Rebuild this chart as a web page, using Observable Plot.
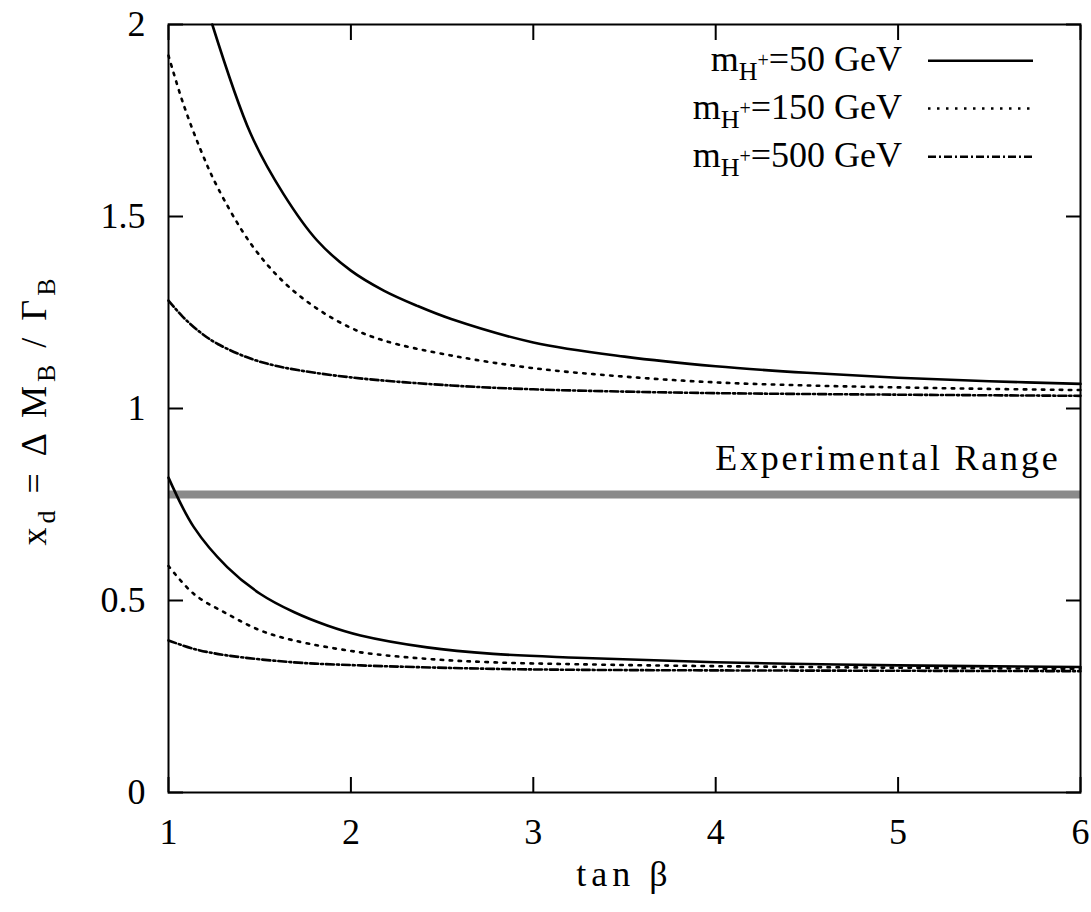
<!DOCTYPE html>
<html><head><meta charset="utf-8">
<script src="https://cdn.jsdelivr.net/npm/d3@7"></script>
<script src="https://cdn.jsdelivr.net/npm/@observablehq/plot@0.6"></script>
<style>
body{margin:0;background:#fff;}
#wrap{position:relative;width:1091px;height:912px;}
#overlay{position:absolute;left:0;top:0;pointer-events:none;}
</style></head><body><div id="wrap"></div>
<script>
// ---- data ----
const xTicks = [1, 2, 3, 4, 5, 6];
const yTicks = [0, 0.5, 1, 1.5, 2];
const seriesNames = ["m_H+=50 GeV", "m_H+=150 GeV", "m_H+=500 GeV"];
const legendMasses = ["50", "150", "500"];

// upper branch
const tUp50  = [1.24, 1.45, 1.63, 1.815, 2.0, 2.18, 2.36, 2.55, 3.0, 3.5, 4.0, 4.5, 5.0, 5.5, 6.0];
const yUp50  = [2.0, 1.716, 1.559, 1.4375, 1.359, 1.307, 1.268, 1.233, 1.172, 1.135, 1.11, 1.093, 1.08, 1.071, 1.064];
const tUp150 = [1.0, 1.08, 1.175, 1.27, 1.45, 1.63, 1.815, 2.0, 2.18, 2.55, 3.0, 3.5, 4.0, 4.5, 5.0, 5.5, 6.0];
const yUp150 = [1.919, 1.795, 1.675, 1.575, 1.43, 1.33, 1.26, 1.21, 1.177, 1.138, 1.105, 1.083, 1.068, 1.06, 1.055, 1.051, 1.048];
const tUp500 = [1.0, 1.08, 1.175, 1.27, 1.45, 1.63, 2.0, 2.55, 3.0, 3.5, 4.0, 5.0, 6.0];
const yUp500 = [1.281, 1.238, 1.198, 1.168, 1.13, 1.107, 1.081, 1.06, 1.05, 1.044, 1.04, 1.036, 1.033];

// lower branch
const tLo50  = [1.0, 1.139, 1.322, 1.504, 1.687, 1.87, 2.053, 2.418, 2.78, 3.24, 4.0, 5.0, 6.0];
const yLo50  = [0.82, 0.691, 0.587, 0.517, 0.47, 0.435, 0.409, 0.378, 0.361, 0.351, 0.339, 0.331, 0.327];
const tLo150 = [1.0, 1.139, 1.322, 1.504, 1.687, 2.053, 2.418, 2.78, 3.24, 4.0, 5.0, 6.0];
const yLo150 = [0.59, 0.517, 0.465, 0.422, 0.396, 0.365, 0.348, 0.339, 0.334, 0.329, 0.325, 0.322];
const tLo500 = [1.0, 1.139, 1.322, 1.687, 2.053, 2.78, 3.24, 4.0, 5.0, 6.0];
const yLo500 = [0.396, 0.374, 0.357, 0.339, 0.331, 0.322, 0.3195, 0.318, 0.317, 0.316];

// experimental value of x_d
const expValue = [0.776];
const expLabel = ["Experimental Range"];
const xLabel = ["tan β"];

// ---- build table ----
function rows(ts, ys, series, branch) {
  return ts.map((t, i) => ({t, xd: ys[i], series, branch}));
}
const d50  = [...rows(tUp50, yUp50, seriesNames[0], "up"), ...rows(tLo50, yLo50, seriesNames[0], "lo")];
const d150 = [...rows(tUp150, yUp150, seriesNames[1], "up"), ...rows(tLo150, yLo150, seriesNames[1], "lo")];
const d500 = [...rows(tUp500, yUp500, seriesNames[2], "up"), ...rows(tLo500, yLo500, seriesNames[2], "lo")];

const dashes = ["none", "2.5,6.5", "8,3,2,3"];
const serif = '"Liberation Serif", "Tinos", "Nimbus Roman", "DejaVu Serif", "Noto Serif", serif';

const chart = Plot.plot({
  width: 1091, height: 912,
  marginLeft: 168, marginRight: 11, marginTop: 24, marginBottom: 120,
  style: {fontFamily: serif, fontSize: "36px", color: "black", background: "white"},
  x: {domain: [1, 6]},
  y: {domain: [0, 2]},
  marks: [
    Plot.ruleY(expValue, {stroke: "#8a8a8a", strokeWidth: 8}),
    Plot.line(d50,  {x: "t", y: "xd", z: "branch", stroke: "black", strokeWidth: 2.6, curve: "catmull-rom"}),
    Plot.line(d150, {x: "t", y: "xd", z: "branch", stroke: "black", strokeWidth: 2.6, strokeDasharray: dashes[1], curve: "catmull-rom"}),
    Plot.line(d500, {x: "t", y: "xd", z: "branch", stroke: "black", strokeWidth: 2.6, strokeDasharray: dashes[2], curve: "catmull-rom"}),
    Plot.axisX({anchor: "bottom", ticks: xTicks, tickSize: -15, tickPadding: 41, strokeWidth: 2, label: null, tickFormat: d3.format("~g")}),
    Plot.axisX({anchor: "top", ticks: xTicks, tickSize: -15, strokeWidth: 2, label: null, tickFormat: () => ""}),
    Plot.axisY({anchor: "left", ticks: yTicks, tickSize: -15, tickPadding: 38, strokeWidth: 2, label: null, tickFormat: d3.format("~g")}),
    Plot.axisY({anchor: "right", ticks: yTicks, tickSize: -15, strokeWidth: 2, label: null, tickFormat: () => ""}),
    Plot.frame({stroke: "black", strokeWidth: 2}),
    Plot.text(expLabel, {y: expValue, frameAnchor: "right", textAnchor: "end", dx: -20, dy: -36, fontSize: 36}),
    Plot.text(xLabel, {frameAnchor: "bottom", dy: 93, fontSize: 36})
  ]
});

const wrap = document.getElementById("wrap");
wrap.appendChild(chart);
d3.select(chart).style("font-family", serif);
d3.select(chart).selectAll("g").style("font-family", serif);

// letter spacing tweaks to match the reference's wide type
d3.select(chart).selectAll("text").each(function() {
  const s = this.textContent;
  if (s === expLabel[0]) this.setAttribute("letter-spacing", "2.8");
  if (s === xLabel[0]) this.setAttribute("letter-spacing", "5");
});

// ---- overlay: legend and y-axis title ----
const ov = d3.select(wrap).append("svg")
  .attr("id", "overlay").attr("width", 1091).attr("height", 912)
  .style("font-family", serif).style("font-size", "36px");

const legendRowBaseline = [70.7, 118.5, 166.7];
legendMasses.forEach((m, i) => {
  const t = ov.append("text").attr("x", 902).attr("y", legendRowBaseline[i]).attr("text-anchor", "end");
  t.append("tspan").text("m");
  t.append("tspan").attr("font-size", 26).attr("dy", 9.3).text("H");
  t.append("tspan").attr("font-size", 20).attr("dy", -13).text("+");
  t.append("tspan").attr("dy", 3.7).text("=" + m + " GeV");
  ov.append("line")
    .attr("x1", 928).attr("x2", 1033)
    .attr("y1", legendRowBaseline[i] - 10).attr("y2", legendRowBaseline[i] - 10)
    .attr("stroke", "black").attr("stroke-width", 2.6)
    .attr("stroke-dasharray", dashes[i]);
});

const yl = ov.append("text")
  .attr("transform", "translate(46,410) rotate(-90)")
  .attr("text-anchor", "middle").attr("letter-spacing", "4");
yl.append("tspan").text("x");
yl.append("tspan").attr("font-size", 26).attr("dy", 9).text("d");
yl.append("tspan").attr("dy", -9).text(" = Δ M");
yl.append("tspan").attr("font-size", 26).attr("dy", 9).text("B");
yl.append("tspan").attr("dy", -9).text(" / Γ");
yl.append("tspan").attr("font-size", 26).attr("dy", 9).text("B");
</script>
</body></html>
